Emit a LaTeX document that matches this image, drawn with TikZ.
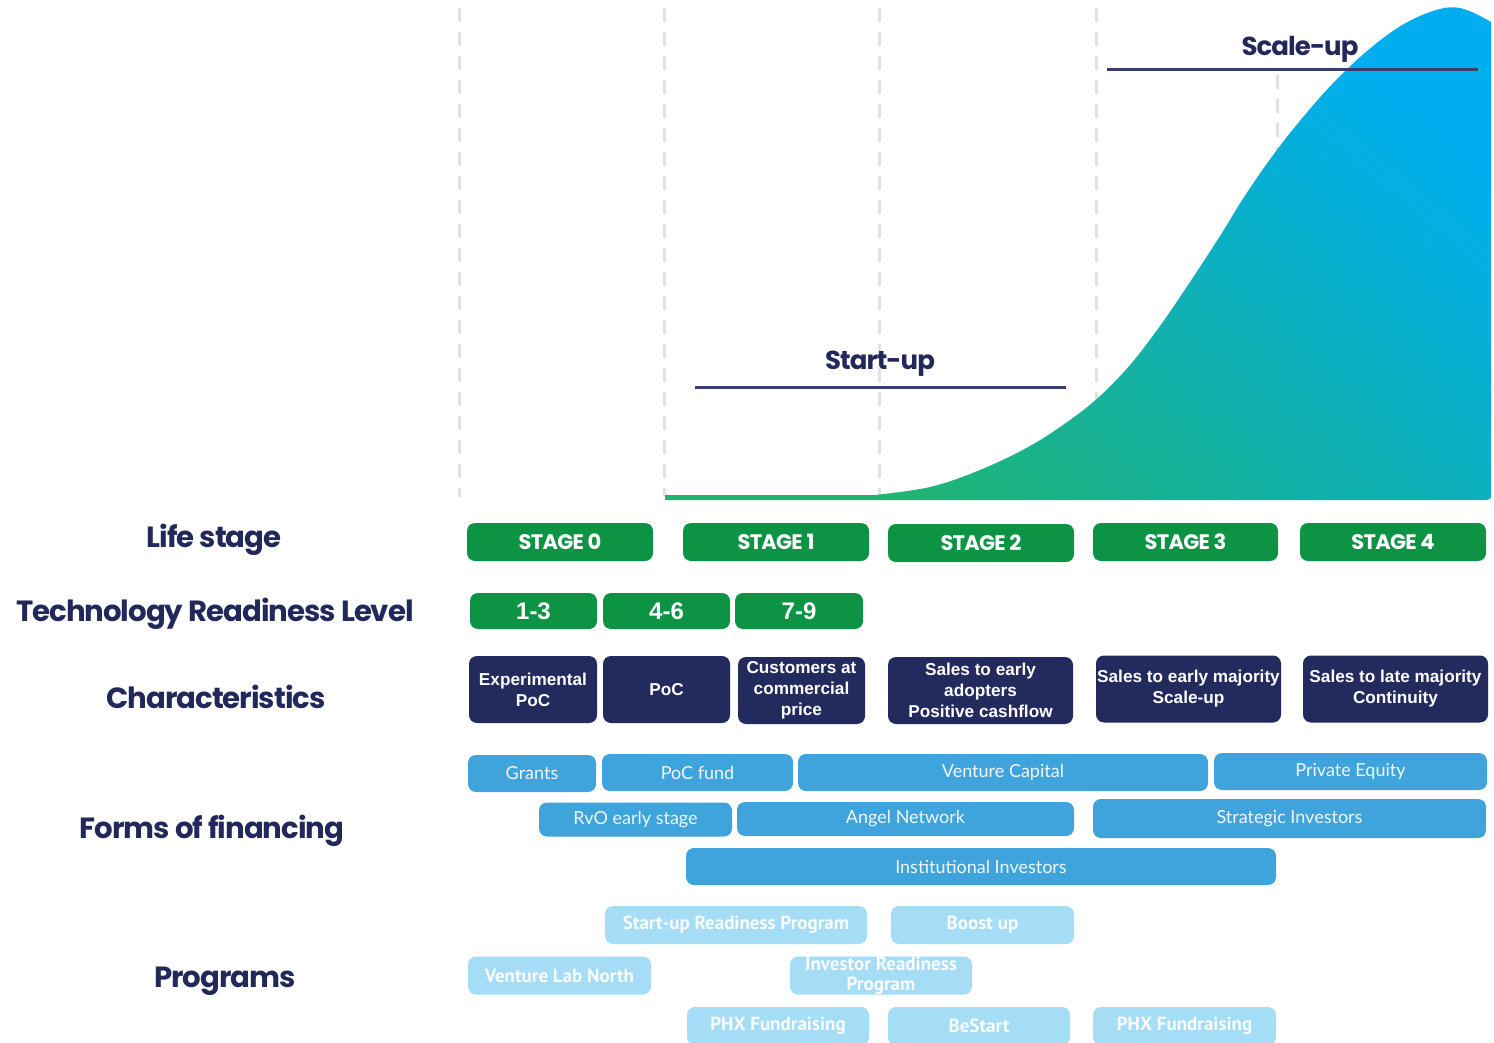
\documentclass[tikz,border=0pt]{standalone}
\usepackage{fontspec}
\setmainfont{Liberation Sans}
\newfontfamily\headfont{Poppins}[LetterSpace=-3.5]
\newfontfamily\finfont{Lato}
\newfontfamily\progfont{PT Sans}
\definecolor{navy}{HTML}{23285B}
\definecolor{stagegreen}{HTML}{0C9444}
\definecolor{charnavy}{HTML}{232A5E}
\definecolor{finblue}{HTML}{40A4DC}
\definecolor{proglight}{HTML}{A4DDF5}
\definecolor{dashgrey}{HTML}{E2E2E2}
\definecolor{curvegreen}{HTML}{22B46F}
\definecolor{curveteal}{HTML}{00B3A6}
\definecolor{curveblue}{HTML}{00AEEF}
\begin{document}
\begin{tikzpicture}[x=0.5pt,y=-0.5pt]
      \tikzset{heading/.style={font={\headfont\bfseries\fontsize{14.6}{18}\selectfont}, text=navy},
               phase/.style={font={\headfont\bfseries\fontsize{13}{15}\selectfont}, text=navy},
               stagebox/.style={fill=stagegreen, rounded corners=4pt, minimum width=93pt, minimum height=19pt, inner sep=0pt, text=white, font={\headfont\bfseries\fontsize{10.5}{12}\selectfont}},
               trlbox/.style={fill=stagegreen, rounded corners=4pt, minimum width=63.5pt, minimum height=18pt, inner sep=0pt, text=white, font={\bfseries\fontsize{12}{14}\selectfont}},
               charbox/.style={fill=charnavy, rounded corners=4pt, minimum height=33.5pt, inner sep=0pt, align=center, text=white, font={\bfseries\fontsize{8.6}{10.5}\selectfont}},
               finbox/.style={fill=finblue, rounded corners=4pt, minimum height=18.5pt, inner sep=0pt, text=white!92!finblue, font={\finfont\fontsize{9}{11}\selectfont}},
               progbox/.style={fill=proglight, rounded corners=4pt, minimum width=91.5pt, minimum height=19pt, inner sep=0pt, align=center, text=white!94!proglight, font={\progfont\bfseries\fontsize{9.5}{9.8}\selectfont}},
               divider/.style={dashgrey, line width=1.5pt, dash pattern=on 7pt off 5pt},
               phaseline/.style={navy!90!white, line width=1.5pt}}
      \useasboundingbox (0,0) rectangle (1494,1043);
      \clip (0,0) rectangle (1494,1043);
%% Dividers
	\foreach \x/\top in {459/8, 664/8, 879/8, 1096/8, 1277/75}
		\draw[divider] (\x,\top) -- (\x,497);
%% Curve
	\shade[bottom color=curvegreen, middle color=curveteal, top color=curveblue, shading angle=-40]
		(665,495) -- plot[smooth, tension=0.6] coordinates {(875,495) (930,487) (980,470) (1030,446) (1070,420) (1100,396) (1130,365) (1160,326) (1190,282) (1220,236) (1250,188) (1290,133) (1340,76) (1390,33) (1430,12) (1460,8) (1491,22)}
		-- (1491,494) .. controls (1491,499) .. (1486,500) -- (665,500) -- cycle;
%% Phases
	\node[phase] (startup) at (880,364) {Start-up};
	\coordinate (su1) at (695,387);
	\coordinate (su2) at (1066,387);
	\draw[phaseline] (su1) -- (su2);
	\node[phase] (scaleup) at (1300,49) {Scale-up};
	\coordinate (sc1) at (1107,70);
	\coordinate (sc2) at (1478,70);
	\draw[phaseline] (sc1) -- (sc2);
%% Row headings
	\node[heading] (hlife) at (214,540) {Life stage};
	\node[heading] (htrl) at (215,614) {Technology Readiness Level};
	\node[heading] (hchar) at (216,697) {Characteristics};
	\node[heading] (hfin) at (212,831) {Forms of financing};
	\node[heading] (hprog) at (225,981) {Programs};
%% Life stage
	\node[stagebox] (s0) at (560,542) {STAGE 0};
	\node[stagebox] (s1) at (776,542) {STAGE 1};
	\node[stagebox] (s2) at (981,543) {STAGE 2};
	\node[stagebox, minimum width=92.5pt] (s3) at (1185.5,542) {STAGE 3};
	\node[stagebox] (s4) at (1393,542) {STAGE 4};
%% TRL
	\node[trlbox] (t1) at (533.5,611) {1-3};
	\node[trlbox] (t2) at (666.5,611) {4-6};
	\node[trlbox, minimum width=64pt] (t3) at (799,611) {7-9};
%% Characteristics
	\node[charbox, minimum width=64pt] (c0) at (533,689.5) {Experimental\\PoC};
	\node[charbox, minimum width=63.5pt] (c1) at (666.5,689.5) {PoC};
	\node[charbox, minimum width=63.5pt] (c2) at (801.5,690.5) {Customers at\\commercial\\price};
	\node[charbox, minimum width=92.5pt] (c3) at (980.5,690.5) {Sales to early\\adopters\\Positive cashflow};
	\node[charbox, minimum width=92.5pt] (c4) at (1188.5,689) {Sales to early majority\\Scale-up};
	\node[charbox, minimum width=92.5pt] (c5) at (1395.5,689) {Sales to late majority\\Continuity};
%% Forms of financing
	\node[finbox, minimum width=64pt] (grants) at (532,773.5) {Grants};
	\node[finbox, minimum width=95.5pt] (pocfund) at (697.5,772.5) {PoC fund};
	\node[finbox, minimum width=205pt] (vc) at (1003,772.5) {Venture Capital};
	\node[finbox, minimum width=136.5pt] (pe) at (1350.5,771.5) {Private Equity};
	\node[finbox, minimum width=96.5pt, minimum height=17pt] (rvo) at (635.5,819.5) {RvO early stage};
	\node[finbox, minimum width=168.5pt, minimum height=17pt] (angel) at (905.5,819) {Angel Network};
	\node[finbox, minimum width=196.5pt, minimum height=19.5pt] (strat) at (1289.5,818.5) {Strategic Investors};
	\node[finbox, minimum width=295pt] (inst) at (981,866.5) {Institutional Investors};
%% Programs
	\node[progbox, minimum width=131pt] (srp) at (736,925) {Start-up Readiness Program};
	\node[progbox] (boost) at (982.5,925) {Boost up};
	\node[progbox] (vln) at (559.5,975.5) {Venture Lab North};
	\node[progbox, minimum width=91pt] (irp) at (881,975.5) {Investor Readiness\\Program};
	\node[progbox, minimum width=91pt] (phx1) at (778,1026) {PHX Fundraising};
	\node[progbox, minimum width=91pt] (bestart) at (979,1026) {BeStart};
	\node[progbox] (phx2) at (1184.5,1026) {PHX Fundraising};
\end{tikzpicture}
\end{document}
